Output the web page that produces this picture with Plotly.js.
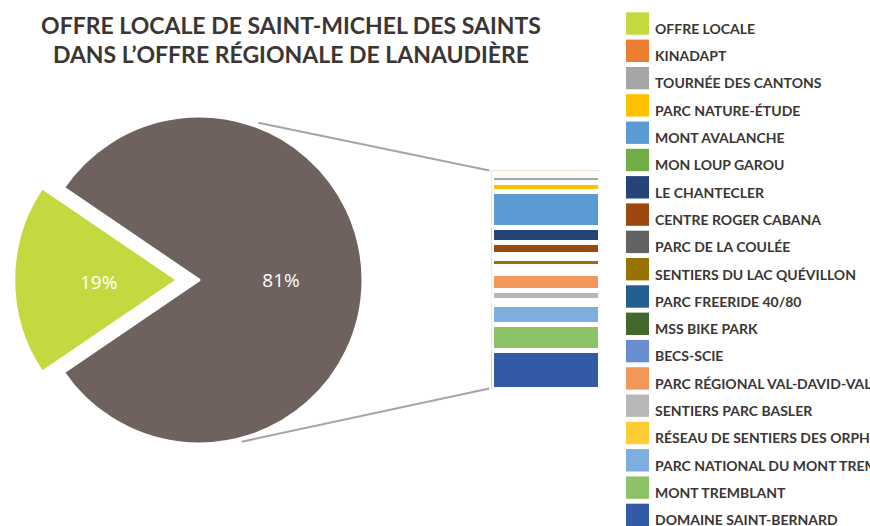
<!DOCTYPE html>
<html>
<head>
<meta charset="utf-8">
<script src="https://cdn.plot.ly/plotly-3.0.1.min.js"></script>
<style>html,body{margin:0;padding:0;background:#fff;}#chart{width:870px;height:526px;}</style>
</head>
<body>
<div id="chart"></div>
<script>
// ---- data ----
const pieLabels = ['OFFRE LOCALE', 'OFFRE RÉGIONALE (AUTRES)'];
const localShare = 19;
const regionNames = [
  'KINADAPT', 'TOURNÉE DES CANTONS', 'PARC NATURE-ÉTUDE', 'MONT AVALANCHE',
  'MON LOUP GAROU', 'LE CHANTECLER', 'CENTRE ROGER CABANA', 'PARC DE LA COULÉE',
  'SENTIERS DU LAC QUÉVILLON', 'PARC FREERIDE 40/80', 'MSS BIKE PARK', 'BECS-SCIE',
  'PARC RÉGIONAL VAL-DAVID-VAL-MORIN', 'SENTIERS PARC BASLER',
  'RÉSEAU DE SENTIERS DES ORPHELINS', 'PARC NATIONAL DU MONT TREMBLANT',
  'MONT TREMBLANT', 'DOMAINE SAINT-BERNARD'
];
const regionValues = [1.7, 2.7, 3.4, 13.2, 0.1, 5.4, 4.4, 1.7, 2.7, 0.9, 0.9, 0.8, 6.3, 3.7, 1.6, 7.3, 9.8, 14.3];
const localColor = '#c4d940';
const otherColor = '#6f625e';
const regionColors = [
  '#ed7d31', '#a5a5a5', '#ffc000', '#5b9bd5', '#70ad47', '#264478', '#9e480e', '#636363',
  '#997300', '#255e91', '#43682b', '#698ed0', '#f1975a', '#b7b7b7', '#ffcd33', '#7cafdd',
  '#8cc168', '#335aa6'
];

// ---- layout helpers ----
const W = 870, H = 526;
const px = x => x / W;
const py = y => 1 - y / H;
const narrow = "Lato, Roboto, Liberation Sans, sans-serif";
const textColor = '#3b3633';

const otherTotal = regionValues.reduce((a, b) => a + b, 0);
const localFrac = localShare / (localShare + otherTotal);
const rotation = 270 - localFrac * 360 / 2 - 360;

const traces = [];
traces.push({
  type: 'pie',
  labels: pieLabels,
  values: [localShare, otherTotal],
  sort: false,
  direction: 'clockwise',
  rotation: rotation,
  pull: [0.13, 0],
  marker: {colors: [localColor, otherColor], line: {color: '#ffffff', width: 3}},
  textinfo: 'percent',
  textposition: ['none', 'inside'],
  insidetextorientation: 'horizontal',
  textfont: {family: 'Open Sans, sans-serif', size: 19, color: '#ffffff'},
  domain: {x: [px(13.7), px(384.3)], y: [py(465.3), py(94.7)]},
  showlegend: false,
  hoverinfo: 'label+percent'
});

regionNames.forEach((name, i) => {
  traces.push({
    type: 'bar',
    name: name,
    x: [0],
    y: [regionValues[i]],
    width: 1,
    marker: {color: regionColors[i], line: {color: '#ffffff', width: 5}},
    xaxis: 'x', yaxis: 'y',
    showlegend: false,
    hovertemplate: name + ': %{y}<extra></extra>'
  });
});

// custom legend (large square swatches)
const legendNames = [pieLabels[0]].concat(regionNames);
const legendColors = [localColor].concat(regionColors);
const shapes = [];
const annotations = [];
const pitch = 27.3;
legendNames.forEach((name, i) => {
  const top = 12.3 + pitch * i;
  shapes.push({type: 'rect', xref: 'paper', yref: 'paper',
    x0: px(626), x1: px(649), y0: py(top + 22.4), y1: py(top),
    fillcolor: legendColors[i], line: {width: 0}});
  annotations.push({xref: 'paper', yref: 'paper', x: px(653), y: py(top + 16),
    xanchor: 'left', yanchor: 'middle', showarrow: false, text: name,
    font: {family: narrow, size: 14, color: textColor, weight: 'bold'}});
});

// label for the pulled-out local slice
annotations.push({xref: 'paper', yref: 'paper', x: px(98), y: py(282),
  xanchor: 'center', yanchor: 'middle', showarrow: false,
  text: Math.round(localFrac * 100) + '%',
  font: {family: 'Open Sans, sans-serif', size: 19, color: '#ffffff'}});

// connector lines between pie and bar
shapes.push({type: 'line', xref: 'paper', yref: 'paper', layer: 'below',
  x0: px(258.3), y0: py(122.7), x1: px(489.3), y1: py(170.5),
  line: {color: '#a5a5a5', width: 2}});
shapes.push({type: 'line', xref: 'paper', yref: 'paper', layer: 'below',
  x0: px(241.7), y0: py(441.7), x1: px(489.3), y1: py(388.5),
  line: {color: '#a5a5a5', width: 2}});

const layout = {
  width: W, height: H,
  margin: {l: 0, r: 0, t: 0, b: 0},
  paper_bgcolor: '#ffffff', plot_bgcolor: '#ffffff',
  title: {
    text: 'OFFRE LOCALE DE SAINT-MICHEL DES SAINTS<br>DANS L’OFFRE RÉGIONALE DE LANAUDIÈRE',
    x: px(291), xanchor: 'center', y: py(33.5), yanchor: 'top',
    font: {family: narrow, size: 23, color: textColor, weight: 'bold'}
  },
  barmode: 'stack',
  bargap: 0,
  xaxis: {domain: [px(491.5), px(600.2)], range: [-0.5, 0.5], visible: false, fixedrange: true},
  yaxis: {domain: [py(389.5), py(170.5)], range: [otherTotal, 0], visible: false, fixedrange: true},
  showlegend: false,
  shapes: shapes,
  annotations: annotations
};

Plotly.newPlot('chart', traces, layout, {displayModeBar: false});
</script>
</body>
</html>
